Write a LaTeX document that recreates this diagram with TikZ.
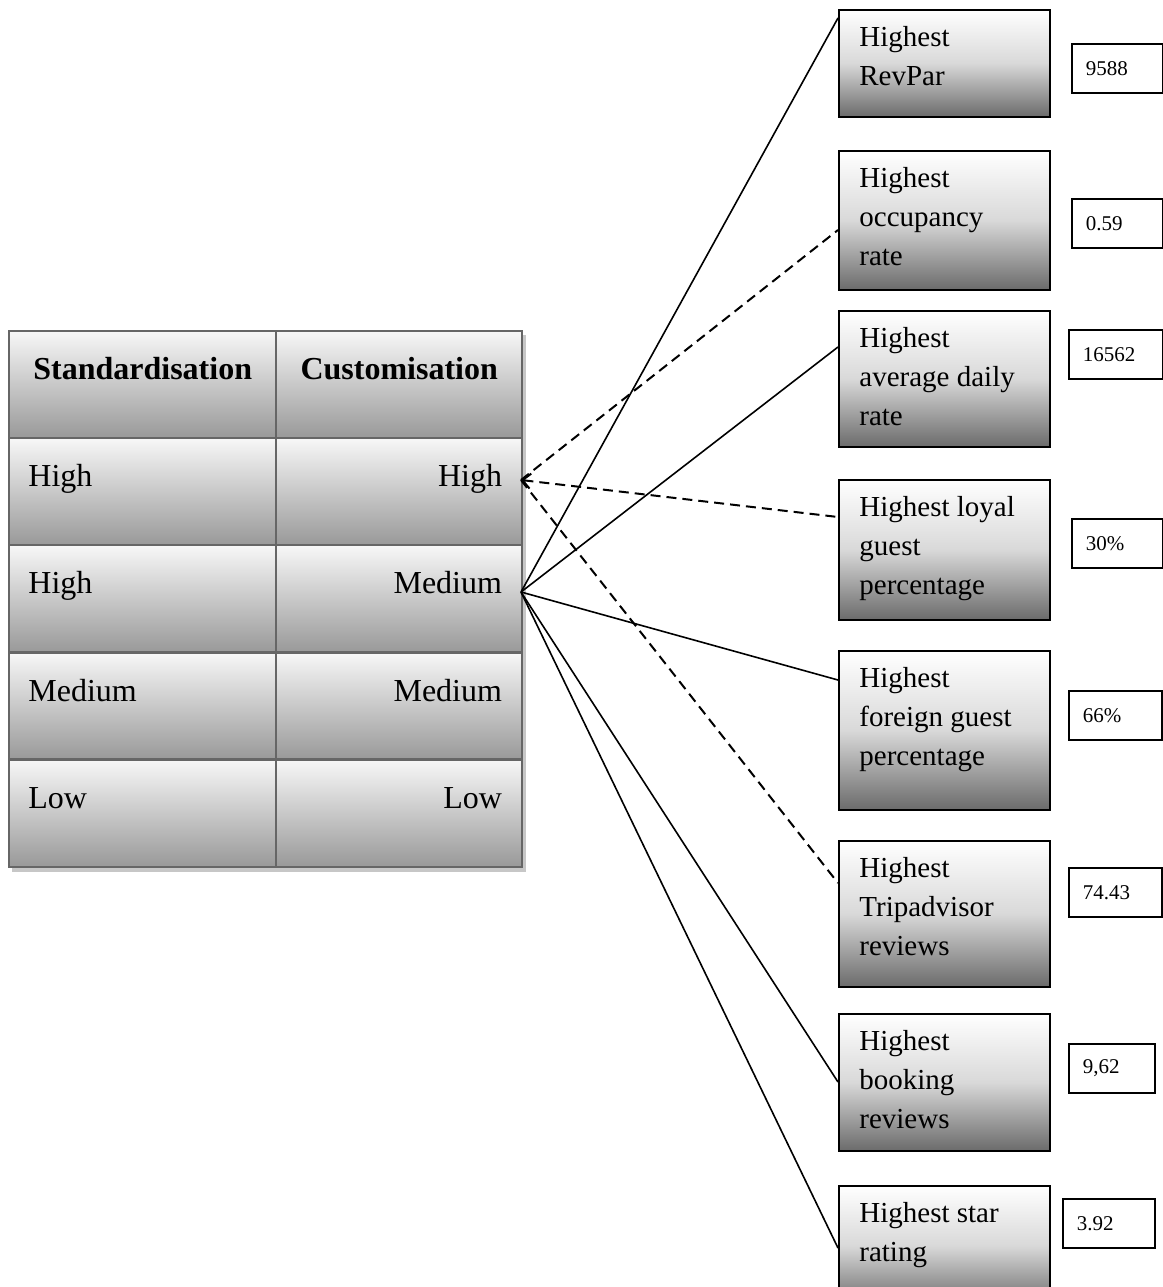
\documentclass[tikz,border=0pt]{standalone}
\usepackage{fontspec}
\setmainfont{Liberation Serif}
\usetikzlibrary{arrows.meta}

\tikzset{
  cell/.style={draw=black!60, line width=1.2pt, top color=white!97!black, bottom color=black!40, anchor=north west, minimum height=53.6pt, inner sep=0},
  celltext/.style={font=\fontsize{16}{19}\selectfont, inner sep=0},
  metric/.style={draw=black, line width=0.75pt, top color=white, bottom color=black!58, middle color=black!15, anchor=north west, minimum width=105.5pt, inner sep=0},
  metrictext/.style={font=\fontsize{14.5}{19.5}\selectfont, align=left, anchor=north west, inner sep=0},
  valuebox/.style={draw=black, line width=0.75pt, fill=white, font=\fontsize{10.5}{12}\selectfont, align=left, anchor=north west, minimum height=24.5pt, inner xsep=7pt, inner ysep=0},
  solidlink/.style={line width=0.8pt},
  dashlink/.style={line width=1pt, dash pattern=on 5pt off 3pt},
}

\begin{document}
\begin{tikzpicture}[x=0.5pt, y=-0.5pt]
	\useasboundingbox (0,0) rectangle (1163,1287);

	% table with its shadow
	\fill[black!22] (12,335) rectangle (526,872);
	\node[cell, minimum width=133.5pt] (std0) at (8,329.5) {};
	\node[cell, minimum width=123pt] (cus0) at (275,329.5) {};
	\node[celltext, anchor=base, font=\fontsize{16}{19}\selectfont\bfseries] (stdt0) at ([yshift=-24.75pt]std0.north) {Standardisation};
	\node[celltext, anchor=base, font=\fontsize{16}{19}\selectfont\bfseries] (cust0) at ([yshift=-24.75pt]cus0.north) {Customisation};
	\foreach \std/\cus [count=\i] in {High/High, High/Medium, Medium/Medium, Low/Low} {
		\node[cell, minimum width=133.5pt] (std\i) at (8,{329.5+107.2*\i}) {};
		\node[cell, minimum width=123pt] (cus\i) at (275,{329.5+107.2*\i}) {};
		\node[celltext, anchor=base west] (stdt\i) at ([xshift=10pt, yshift=-25pt]std\i.north west) {\std};
		\node[celltext, anchor=base east] (cust\i) at ([xshift=-10.5pt, yshift=-25pt]cus\i.north east) {\cus};
	}

	% performance boxes
	\node[metric, minimum height=53.5pt] (revpar) at (838,9) {};
	\node[metric, minimum height=69.5pt] (occupancy) at (838,150) {};
	\node[metric, minimum height=68pt] (adr) at (838,310) {};
	\node[metric, minimum height=70pt] (loyal) at (838,479) {};
	\node[metric, minimum height=79.5pt] (foreign) at (838,650) {};
	\node[metric, minimum height=73pt] (tripadvisor) at (838,840) {};
	\node[metric, minimum height=68.5pt] (booking) at (838,1013) {};
	\node[metric, minimum height=60pt] (star) at (838,1185) {};

	\node[metrictext] (revpart) at ([xshift=10.5pt, yshift=-8.5pt]revpar.north west) {Highest\\RevPar};
	\node[metrictext] (occupancyt) at ([xshift=10.5pt, yshift=-8.5pt]occupancy.north west) {Highest\\occupancy\\rate};
	\node[metrictext] (adrt) at ([xshift=10.5pt, yshift=-8.5pt]adr.north west) {Highest\\average daily\\rate};
	\node[metrictext] (loyalt) at ([xshift=10.5pt, yshift=-8.5pt]loyal.north west) {Highest loyal\\guest\\percentage};
	\node[metrictext] (foreignt) at ([xshift=10.5pt, yshift=-8.5pt]foreign.north west) {Highest\\foreign guest\\percentage};
	\node[metrictext] (tripadvisort) at ([xshift=10.5pt, yshift=-8.5pt]tripadvisor.north west) {Highest\\Tripadvisor\\reviews};
	\node[metrictext] (bookingt) at ([xshift=10.5pt, yshift=-8.5pt]booking.north west) {Highest\\booking\\reviews};
	\node[metrictext] (start) at ([xshift=10.5pt, yshift=-8.5pt]star.north west) {Highest star\\rating};

	% values
	\node[valuebox, text width=31.5pt] (revparval) at (1071,43) {9588};
	\node[valuebox, text width=31.5pt] (occupancyval) at (1071,198) {0.59};
	\node[valuebox, text width=33pt] (adrval) at (1068,329) {16562};
	\node[valuebox, text width=31.5pt] (loyalval) at (1071,518) {30\%};
	\node[valuebox, text width=32.5pt] (foreignval) at (1068,690) {66\%};
	\node[valuebox, text width=32.5pt] (tripadvisorval) at (1068,867) {74.43};
	\node[valuebox, text width=29pt] (bookingval) at (1068,1043) {9,62};
	\node[valuebox, text width=32pt] (starval) at (1062,1198) {3.92};

	% links
	\coordinate (highpt) at (521,480);
	\coordinate (medpt) at (521,592);
	\draw[solidlink] (medpt) -- ([yshift=-4.5pt]revpar.north west);
	\draw[dashlink] (highpt) -- ([yshift=-40pt]occupancy.north west);
	\draw[solidlink] (medpt) -- ([yshift=-18.5pt]adr.north west);
	\draw[dashlink, {Straight Barb[length=4pt, width=7.5pt]}-] (highpt) -- ([yshift=-19pt]loyal.north west);
	\draw[solidlink] (medpt) -- ([yshift=-15pt]foreign.north west);
	\draw[dashlink] (highpt) -- ([yshift=-21.5pt]tripadvisor.north west);
	\draw[solidlink] (medpt) -- ([yshift=-34.5pt]booking.north west);
	\draw[solidlink] (medpt) -- ([yshift=-31.5pt]star.north west);
\end{tikzpicture}
\end{document}
